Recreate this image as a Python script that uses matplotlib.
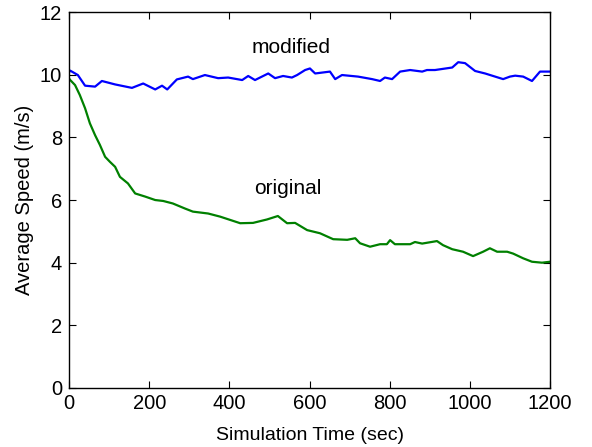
import matplotlib.pyplot as plt

# modified (blue) curve
mod_t = [0, 3, 22, 40, 65, 82, 115, 157, 185, 215, 232, 245, 269, 297, 309, 339,
         372, 397, 432, 447, 464, 497, 514, 534, 556, 569, 589, 601, 614, 651,
         664, 681, 721, 756, 776, 788, 806, 826, 851, 881, 893, 913, 956, 971,
         988, 1013, 1038, 1063, 1083, 1100, 1113, 1133, 1155, 1175, 1200]
mod_v = [10.08, 10.13, 9.99, 9.65, 9.62, 9.80, 9.69, 9.58, 9.72, 9.53, 9.65, 9.53,
         9.85, 9.94, 9.86, 9.99, 9.89, 9.91, 9.83, 9.96, 9.83, 10.04, 9.89, 9.96,
         9.91, 9.99, 10.15, 10.20, 10.04, 10.10, 9.86, 9.99, 9.94, 9.86, 9.80,
         9.91, 9.86, 10.10, 10.15, 10.10, 10.15, 10.15, 10.23, 10.40, 10.37, 10.12,
         10.04, 9.94, 9.86, 9.94, 9.97, 9.94, 9.80, 10.10, 10.10]

# original (green) curve
orig_t = [0, 3, 15, 27, 40, 52, 65, 77, 90, 102, 115, 127, 147, 165, 190, 215,
          235, 259, 289, 309, 347, 377, 427, 459, 494, 521, 544, 564, 594, 626,
          659, 694, 714, 726, 751, 776, 793, 801, 813, 851, 863, 881, 918, 933,
          956, 983, 1008, 1033, 1050, 1068, 1093, 1108, 1133, 1155, 1180, 1200]
orig_v = [9.88, 9.83, 9.67, 9.35, 8.93, 8.45, 8.07, 7.76, 7.38, 7.22, 7.06, 6.74,
          6.53, 6.21, 6.11, 6.00, 5.97, 5.89, 5.73, 5.63, 5.57, 5.47, 5.26, 5.27,
          5.38, 5.49, 5.26, 5.27, 5.04, 4.94, 4.75, 4.73, 4.78, 4.62, 4.51, 4.59,
          4.59, 4.72, 4.59, 4.59, 4.66, 4.61, 4.69, 4.56, 4.43, 4.35, 4.21, 4.35,
          4.46, 4.35, 4.35, 4.29, 4.14, 4.03, 4.00, 4.03]

plt.rcParams['font.family'] = ['Liberation Sans', 'DejaVu Sans']

fig = plt.figure(figsize=(5.92, 4.47), dpi=100)
ax = fig.add_axes([0.1166, 0.132, 0.8125, 0.841])

ax.plot(mod_t, mod_v, color=(0, 0, 1), lw=1.6)
ax.plot(orig_t, orig_v, color=(0, 0.5, 0), lw=1.6)

ax.text(554, 10.87, "modified", ha="center", va="center", fontsize=15)
ax.text(546, 6.38, "original", ha="center", va="center", fontsize=15)

ax.set_xlim(0, 1200)
ax.set_ylim(0, 12)
ax.set_xticks(range(0, 1201, 200))
ax.set_yticks(range(0, 13, 2))
ax.tick_params(direction="in", top=True, right=True, labelsize=14.5, length=5)
ax.tick_params(axis="x", pad=4)
ax.tick_params(axis="y", pad=5)
for s in ax.spines.values():
    s.set_linewidth(1.0)

ax.set_xlabel("Simulation Time (sec)", fontsize=14)
ax.set_ylabel("Average Speed (m/s)", fontsize=14.5)
ax.xaxis.set_label_coords(0.5, -0.105)
ax.yaxis.set_label_coords(-0.072, 0.5)

fig.savefig("out.png", dpi=100)
